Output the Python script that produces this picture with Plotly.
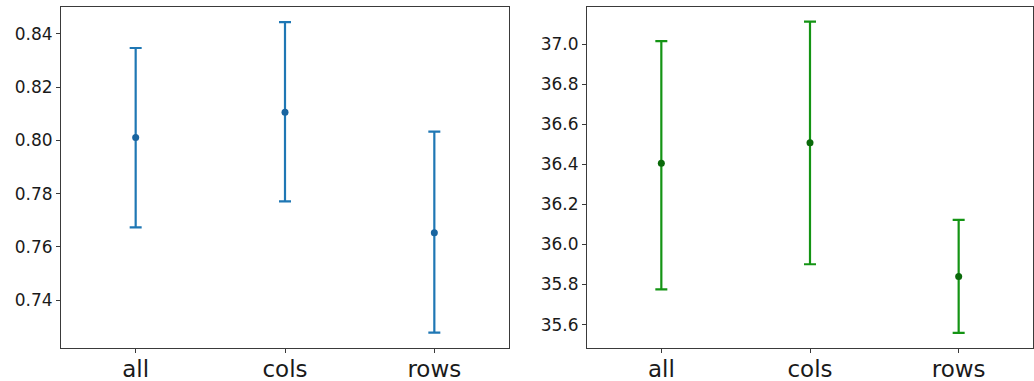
import plotly.graph_objects as go
from plotly.subplots import make_subplots

# Mean scores with their half-width intervals for each slicing strategy
categories = ["all", "cols", "rows"]

accuracy_mean = [0.8011, 0.8106, 0.7653]
accuracy_upper = [0.8347, 0.8444, 0.8033]
accuracy_lower = [0.7673, 0.7771, 0.7278]

score_mean = [36.405, 36.507, 35.840]
score_upper = [37.015, 37.112, 36.122]
score_lower = [35.776, 35.901, 35.558]

W, H = 1034, 381

fig = make_subplots(rows=1, cols=2)


def add_errorbar(mean, upper, lower, color, marker_color, col):
    fig.add_trace(
        go.Scatter(
            x=categories,
            y=mean,
            mode="markers",
            marker=dict(color=marker_color, size=7),
            error_y=dict(
                type="data",
                symmetric=False,
                array=[u - m for u, m in zip(upper, mean)],
                arrayminus=[m - l for m, l in zip(mean, lower)],
                color=color,
                thickness=2.2,
                width=6,
            ),
            showlegend=False,
        ),
        row=1,
        col=col,
    )


add_errorbar(accuracy_mean, accuracy_upper, accuracy_lower, "#1f77b4", "#1a65a0", 1)
add_errorbar(score_mean, score_upper, score_lower, "#149414", "#0a6a0a", 2)

axis_common = dict(
    showline=True,
    linecolor="#3a3a3a",
    linewidth=1,
    mirror=True,
    showgrid=False,
    zeroline=False,
    ticks="outside",
    ticklen=4,
    tickcolor="#3a3a3a",
    automargin=False,
)

y_top, y_bot = 7, 348
ydom = [1 - y_bot / H, 1 - y_top / H]

fig.update_xaxes(
    **axis_common,
    type="category",
    range=[-0.5, 2.5],
    ticklabelstandoff=-4,
    tickfont=dict(family="DejaVu Sans", size=23, color="#1a1a1a"),
)
fig.update_yaxes(
    **axis_common,
    tickfont=dict(family="DejaVu Sans", size=17, color="#1a1a1a"),
)

fig.update_layout(
    width=W,
    height=H,
    margin=dict(l=0, r=0, t=0, b=0),
    paper_bgcolor="white",
    plot_bgcolor="white",
    xaxis=dict(domain=[61 / W, 509 / W]),
    xaxis2=dict(domain=[587 / W, 1033 / W]),
    yaxis=dict(
        domain=ydom,
        range=[0.7220, 0.8501],
        tickvals=[0.74, 0.76, 0.78, 0.80, 0.82, 0.84],
        ticktext=["0.74", "0.76", "0.78", "0.80", "0.82", "0.84"],
    ),
    yaxis2=dict(
        domain=ydom,
        range=[35.483, 37.185],
        tickvals=[35.6, 35.8, 36.0, 36.2, 36.4, 36.6, 36.8, 37.0],
        ticktext=["35.6", "35.8", "36.0", "36.2", "36.4", "36.6", "36.8", "37.0"],
    ),
)

fig.write_html("out.html")
